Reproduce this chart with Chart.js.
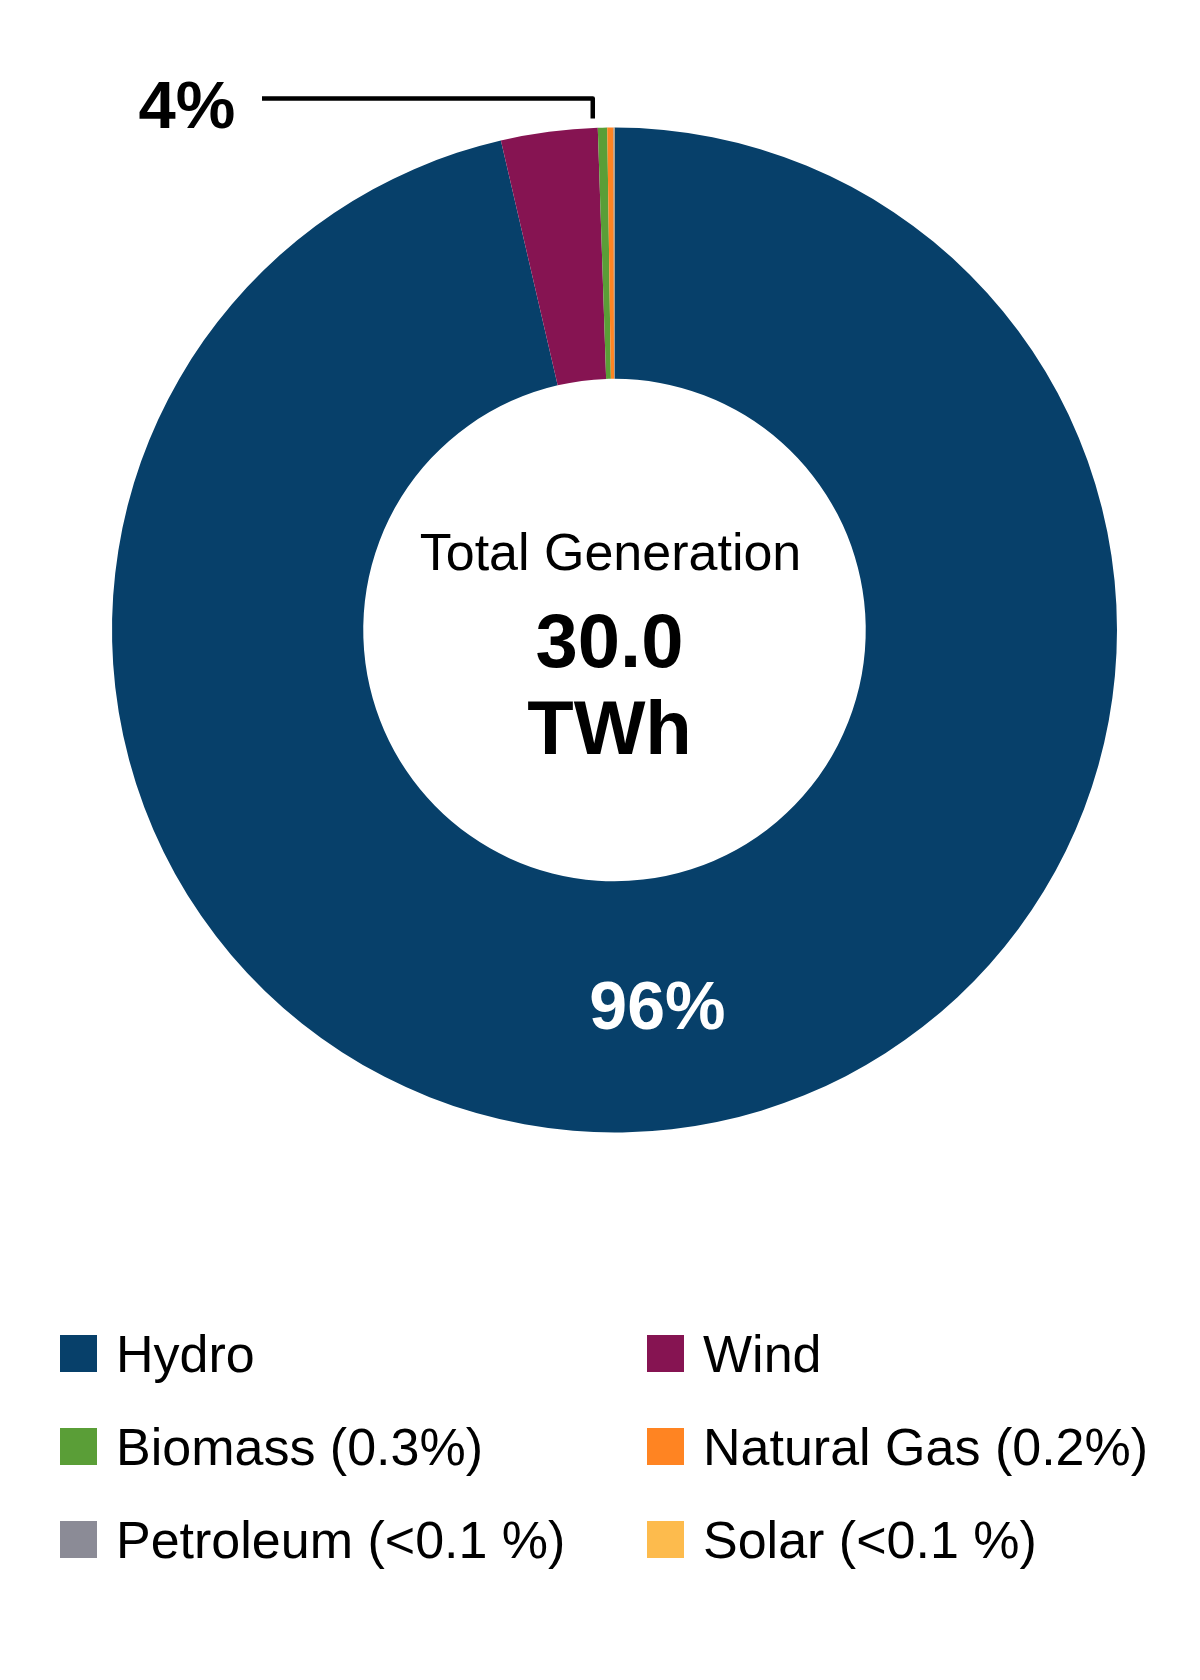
<!DOCTYPE html>
<html lang="en">
  <head>
    <meta charset="UTF-8" />
    <title>Total Generation by Source</title>
    <script src="https://cdn.jsdelivr.net/npm/chart.js"></script>
    <style>
      body {
        margin: 0;
        background: #fff;
        font-family: "Liberation Sans", Arial, sans-serif;
      }
      #page {
        position: relative;
        width: 1200px;
        height: 1680px;
      }
      #chartContainer {
        position: absolute;
        left: 0;
        top: 0;
      }
      #legend {
        position: absolute;
        left: 60px;
        top: 1307px;
        display: grid;
        grid-template-columns: 587px 520px;
        grid-auto-rows: 93px;
      }
      .item {
        display: flex;
        align-items: center;
        font-size: 52px;
        color: #000;
        white-space: nowrap;
      }
      .swatch {
        width: 37px;
        height: 37px;
        margin-right: 19px;
        flex: none;
      }
    </style>
  </head>
  <body>
    <div id="page">
      <div id="chartContainer">
        <canvas id="genChart" width="1200" height="1260"></canvas>
      </div>
      <div id="legend"></div>
    </div>

    <script>
      const sources = ["Hydro", "Wind", "Biomass", "Natural Gas", "Petroleum", "Solar"];
      const shares = [96.37, 3.1, 0.3, 0.2, 0.02, 0.01];
      const legendLabels = [
        "Hydro",
        "Wind",
        "Biomass (0.3%)",
        "Natural Gas (0.2%)",
        "Petroleum (<0.1 %)",
        "Solar (<0.1 %)",
      ];
      const colors = ["#07406a", "#861452", "#5a9e37", "#ff8422", "#8b8b96", "#fdbb4d"];
      const totalTWh = "30.0";

      const FONT = '"Liberation Sans", Arial, sans-serif';

      // center text + slice labels + leader line
      const labelsPlugin = {
        id: "labels",
        afterDraw(chart) {
          const ctx = chart.ctx;
          const arcs = chart.getDatasetMeta(0).data;
          const cx = arcs[0].x;
          const cy = arcs[0].y;
          const outer = arcs[0].outerRadius;

          ctx.save();
          ctx.textAlign = "center";
          ctx.textBaseline = "middle";
          ctx.fillStyle = "#000";
          ctx.font = "52px " + FONT;
          ctx.fillText("Total Generation", cx - 4, cy - 74);
          ctx.font = "bold 76px " + FONT;
          ctx.fillText(totalTWh, cx - 5, cy + 16);
          ctx.fillText("TWh", cx - 5, cy + 103);

          // big slice label
          const hydroPct = Math.round(shares[0]) + "%";
          const p = arcs[0].getCenterPoint();
          ctx.fillStyle = "#fff";
          ctx.font = "bold 68px " + FONT;
          ctx.fillText(hydroPct, p.x, p.y + 6);

          // remainder label with leader line
          const restPct = Math.round(100 - shares[0]) + "%";
          const wind = arcs[1];
          const ex = cx + outer * Math.cos(wind.endAngle) - 5;
          const topY = cy - outer;
          ctx.strokeStyle = "#000";
          ctx.lineWidth = 4.5;
          ctx.lineJoin = "round";
          ctx.beginPath();
          ctx.moveTo(262, topY - 29);
          ctx.lineTo(ex, topY - 29);
          ctx.lineTo(ex, topY - 9);
          ctx.stroke();

          ctx.fillStyle = "#000";
          ctx.font = "bold 67px " + FONT;
          ctx.fillText(restPct, 187, topY - 18);
          ctx.restore();
        },
      };

      new Chart(document.getElementById("genChart"), {
        type: "doughnut",
        data: {
          labels: sources,
          datasets: [
            {
              data: shares,
              backgroundColor: colors,
              borderWidth: 0,
            },
          ],
        },
        options: {
          responsive: false,
          animation: false,
          cutout: "50%",
          layout: {
            padding: { left: 112, right: 83, top: 127, bottom: 127 },
          },
          plugins: {
            legend: { display: false },
            tooltip: { enabled: false },
          },
        },
        plugins: [labelsPlugin],
      });

      const legendEl = document.getElementById("legend");
      legendLabels.forEach((text, i) => {
        const item = document.createElement("div");
        item.className = "item";
        const sw = document.createElement("span");
        sw.className = "swatch";
        sw.style.background = colors[i];
        item.appendChild(sw);
        item.appendChild(document.createTextNode(text));
        legendEl.appendChild(item);
      });
    </script>
  </body>
</html>
